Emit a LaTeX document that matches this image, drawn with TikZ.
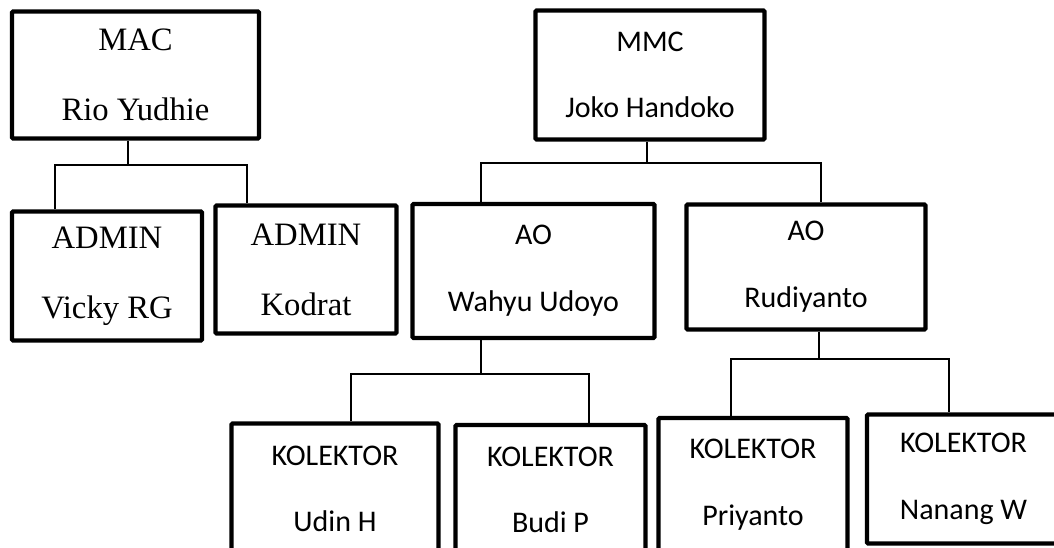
\documentclass[tikz,border=0pt]{standalone}
\usepackage{fontspec}
\usepackage{tikz}
\setmainfont{Carlito}
\newfontfamily\timesfont{Liberation Serif}
\tikzset{
  box/.style={draw, rectangle, line width=3.3pt, rounded corners=1pt, inner sep=0pt, align=center},
  serifbox/.style={box, font=\timesfont\fontsize{24.5}{52.5}\selectfont},
  sansbox/.style={box, font=\fontsize{22.5}{50}\selectfont},
  link/.style={line width=1pt}
}

\begin{document}
\begin{tikzpicture}[x=0.75pt, y=-0.75pt]%
\useasboundingbox (0,0) rectangle (1054,548);%
\clip (0,0) rectangle (1054,548);%
\node[serifbox, minimum width=247*0.75pt, minimum height=127*0.75pt] (mac) at (135.5,75) {MAC\\Rio Yudhie};%
\node[serifbox, minimum width=190*0.75pt, minimum height=129*0.75pt] (vicky) at (107,276) {ADMIN\\Vicky RG};%
\node[serifbox, minimum width=181*0.75pt, minimum height=128*0.75pt] (kodrat) at (306,269.5) {ADMIN\\Kodrat};%
\node[sansbox, minimum width=229*0.75pt, minimum height=129*0.75pt] (mmc) at (650,75) {MMC\\Joko Handoko};%
\node[sansbox, minimum width=242*0.75pt, minimum height=134*0.75pt] (wahyu) at (533.5,271) {AO\\Wahyu Udoyo};%
\node[sansbox, minimum width=239*0.75pt, minimum height=125*0.75pt] (rudi) at (806,267) {AO\\Rudiyanto};%
\node[sansbox, minimum width=207*0.75pt, minimum height=131*0.75pt] (udin) at (335,489) {KOLEKTOR\\Udin H};%
\node[sansbox, minimum width=190*0.75pt, minimum height=130*0.75pt] (budi) at (550.5,490) {KOLEKTOR\\Budi P};%
\node[sansbox, minimum width=189*0.75pt, minimum height=134*0.75pt] (priyanto) at (753,485) {KOLEKTOR\\Priyanto};%
\node[sansbox, minimum width=193*0.75pt, minimum height=129*0.75pt] (nanang) at (963.5,479) {KOLEKTOR\\Nanang W};%
\coordinate (macjoint) at (128,165);%
\coordinate (macL) at (55,165);%
\coordinate (macR) at (247,165);%
\coordinate (mmcjoint) at (647,163);%
\coordinate (mmcL) at (481,163);%
\coordinate (mmcR) at (821,163);%
\coordinate (wahyujoint) at (481,374);%
\coordinate (wahyuL) at (351,374);%
\coordinate (wahyuR) at (589,374);%
\coordinate (rudijoint) at (819,359);%
\coordinate (rudiL) at (731,359);%
\coordinate (rudiR) at (949,359);%
\draw[link] (mac.south -| macjoint) -- (macjoint);%
\draw[link] (vicky.north -| macL) -- (macL) -- (macR) -- (kodrat.north -| macR);%
\draw[link] (mmc.south -| mmcjoint) -- (mmcjoint);%
\draw[link] (wahyu.north -| mmcL) -- (mmcL) -- (mmcR) -- (rudi.north -| mmcR);%
\draw[link] (wahyu.south -| wahyujoint) -- (wahyujoint);%
\draw[link] (udin.north -| wahyuL) -- (wahyuL) -- (wahyuR) -- (budi.north -| wahyuR);%
\draw[link] (rudi.south -| rudijoint) -- (rudijoint);%
\draw[link] (priyanto.north -| rudiL) -- (rudiL) -- (rudiR) -- (nanang.north -| rudiR);%
\end{tikzpicture}
\end{document}
